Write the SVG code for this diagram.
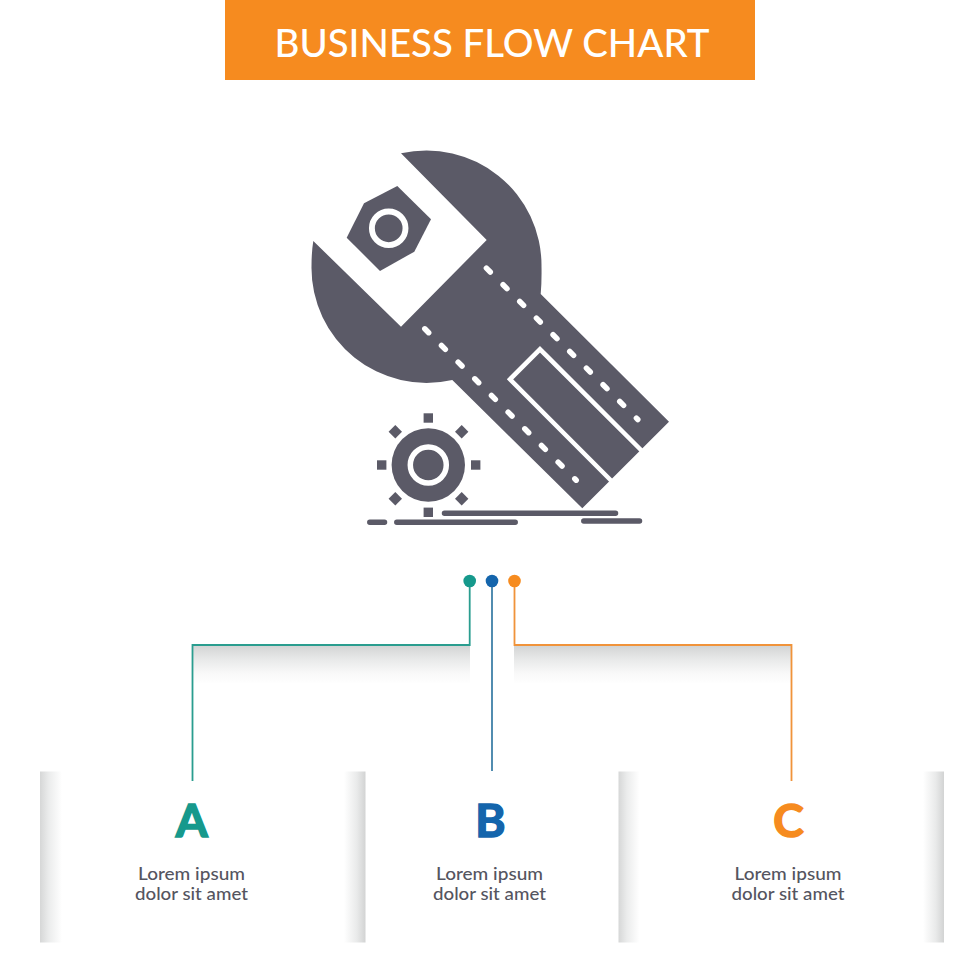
<svg xmlns="http://www.w3.org/2000/svg" width="980" height="980" viewBox="0 0 980 980">
<style>
.ic{fill:#5b5a67}
.cut{fill:none;stroke:#fff}
.bar{stroke:#5b5a67;stroke-width:5.5;stroke-linecap:round;fill:none}
.body{font-family:"Lato","Open Sans",sans-serif;font-size:17px;font-weight:500;fill:#55555f;text-anchor:middle}
.letter{font-family:"Lato","Open Sans",sans-serif;font-size:46px;font-weight:700;text-anchor:middle;stroke-width:1.600;stroke-linejoin:miter}
.wire{fill:none;stroke-width:1.8}
</style>
<defs>
<linearGradient id="down" x1="0" y1="0" x2="0" y2="1"><stop offset="0" stop-color="#d3d5d5"/><stop offset=".35" stop-color="#e8e9e9"/><stop offset=".7" stop-color="#f8f8f8"/><stop offset="1" stop-color="#fff"/></linearGradient>
<linearGradient id="toR" x1="0" y1="0" x2="1" y2="0"><stop offset="0" stop-color="#d6d7d7"/><stop offset=".4" stop-color="#ebecec"/><stop offset="1" stop-color="#fff"/></linearGradient>
<linearGradient id="toL" x1="1" y1="0" x2="0" y2="0"><stop offset="0" stop-color="#d2d3d3"/><stop offset=".4" stop-color="#e9eaea"/><stop offset="1" stop-color="#fff"/></linearGradient>
</defs>
<rect width="980" height="980" fill="#fff"/>
<g id="header">
<rect x="225" y="0" width="530" height="80" fill="#f68b1f"/>
<text x="492" y="57" font-family="Lato,'Open Sans',sans-serif" font-size="38" font-weight="500" fill="#fff" text-anchor="middle" textLength="435" lengthAdjust="spacingAndGlyphs">BUSINESS FLOW CHART</text>
</g>
<g id="icon">
<path class="ic" d="M401 153.3A115 115 0 0 1 541.500 266.500Q541.800 282 540.700 294L669 421.700L582.300 508.300L452.300 380A115 115 0 0 1 311.500 266.500Q311.500 252 313.300 241L401 326.700L486.700 240Z"/>
<path class="cut" stroke-width="4.5" stroke-linejoin="miter" d="M642 451L540 349.3L510 379.3L611.500 481"/>
<path class="cut" stroke-width="5.500" stroke-linecap="round" stroke-dasharray="5.500 18.070" d="M486.400 268.100L637.800 419.500"/>
<path class="cut" stroke-width="5.500" stroke-linecap="round" stroke-dasharray="5.500 18.070" d="M424.800 328.800L576.200 480.200"/>
<polygon class="ic" points="397.300,186 431,219.300 414.300,251.700 380,271 346.700,237.700 364,203.300"/>
<circle cx="388.700" cy="228.300" r="16.800" class="cut" stroke-width="5.900"/>
<circle cx="428.300" cy="465" r="36.700" class="ic"/>
<circle cx="428.300" cy="465" r="18" class="cut" stroke-width="5.500"/>
<rect class="ic" x="423.600" y="413.300" width="9.400" height="9.400"/>
<rect class="ic" x="423.600" y="507.600" width="9.400" height="9.400"/>
<rect class="ic" x="377" y="460.300" width="9.400" height="9.400"/>
<rect class="ic" x="471" y="460.300" width="9.400" height="9.400"/>
<polygon class="ic" points="395.300,425 402,431.700 395.300,438.400 388.600,431.700"/>
<polygon class="ic" points="461.700,425 468.400,431.700 461.700,438.400 455,431.700"/>
<polygon class="ic" points="395.300,492 402,498.700 395.300,505.400 388.600,498.700"/>
<polygon class="ic" points="461.700,492 468.400,498.700 461.700,505.400 455,498.700"/>
<path class="bar" d="M444.500 513.300H615.500M583.800 521H639.500M396.800 522.300H515.200M369.800 522.300H384.500"/>
</g>
<g id="connectors">
<rect x="193" y="646" width="277" height="38" fill="url(#down)"/>
<rect x="514" y="646" width="277" height="38" fill="url(#down)"/>
<path class="wire" stroke="#2a9d8f" d="M469.700 581V645H192.500V781"/>
<path class="wire" stroke="#3f80a8" d="M492 581V771"/>
<path class="wire" stroke="#f0933a" d="M514.500 581V645H791.500V781"/>
<circle cx="469.700" cy="581" r="6.300" fill="#16998c"/>
<circle cx="492" cy="581" r="6.300" fill="#1465ac"/>
<circle cx="514.500" cy="581" r="6.300" fill="#f68b1f"/>
</g>
<g id="node-a">
<rect x="40" y="771.500" width="22" height="171" fill="url(#toR)"/>
<rect x="344" y="771.500" width="21.500" height="171" fill="url(#toL)"/>
<text class="letter" x="191.700" y="836.500" fill="#16998c" stroke="#16998c">A</text>
<text class="body" x="191.500" y="880" textLength="107" lengthAdjust="spacingAndGlyphs">Lorem ipsum</text>
<text class="body" x="191.500" y="900" textLength="113" lengthAdjust="spacingAndGlyphs">dolor sit amet</text>
</g>
<g id="node-b">
<text class="letter" x="490.500" y="836.500" fill="#1465ac" stroke="#1465ac">B</text>
<text class="body" x="489.500" y="880" textLength="107" lengthAdjust="spacingAndGlyphs">Lorem ipsum</text>
<text class="body" x="489.500" y="900" textLength="113" lengthAdjust="spacingAndGlyphs">dolor sit amet</text>
</g>
<g id="node-c">
<rect x="618.500" y="771.500" width="21" height="171" fill="url(#toR)"/>
<rect x="923" y="771.500" width="21" height="171" fill="url(#toL)"/>
<text class="letter" x="788.500" y="836.500" fill="#f68b1f" stroke="#f68b1f">C</text>
<text class="body" x="788" y="880" textLength="107" lengthAdjust="spacingAndGlyphs">Lorem ipsum</text>
<text class="body" x="788" y="900" textLength="113" lengthAdjust="spacingAndGlyphs">dolor sit amet</text>
</g>
</svg>
